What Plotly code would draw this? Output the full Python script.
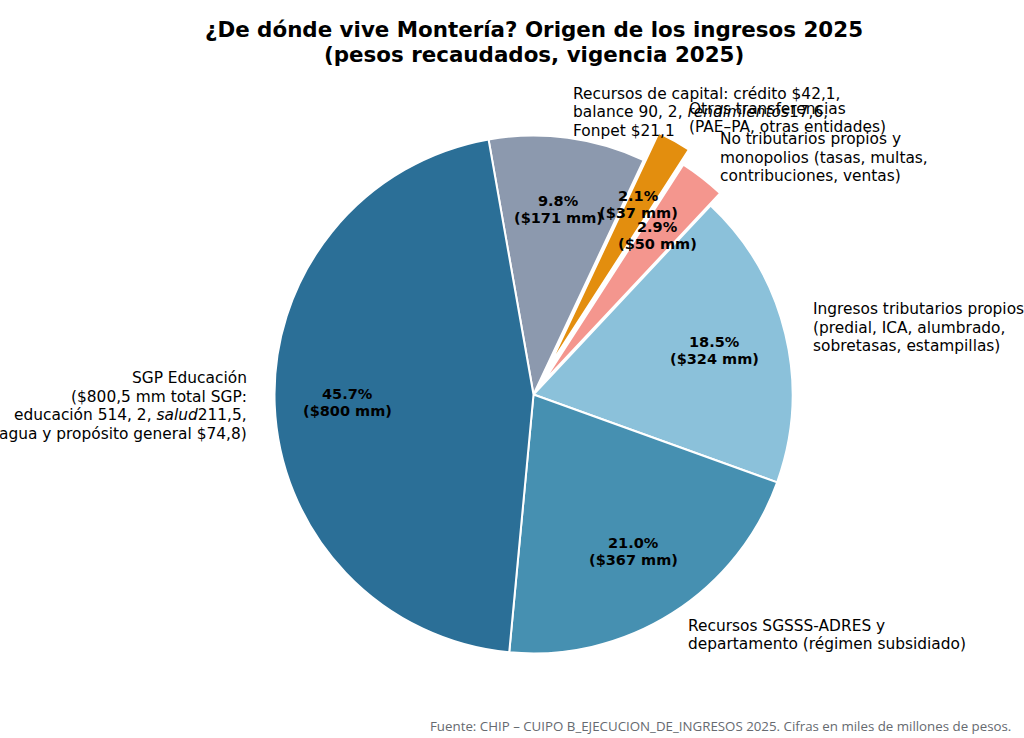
import math
import plotly.graph_objects as go

# Datos (miles de millones de pesos), en orden horario desde arriba
categorias = [
    'Recursos de capital',
    'Otras transferencias',
    'No tributarios propios y monopolios',
    'Ingresos tributarios propios',
    'Recursos SGSSS-ADRES y departamento',
    'SGP Educación',
]
valores = [171.0, 37.2, 50.2, 324.3, 367.4, 800.5]
etiquetas = [
    'Recursos de capital: crédito $42,1,<br>balance 90, 2, <i>rendimientos</i>17,6,<br>Fonpet $21,1',
    'Otras transferencias<br>(PAE–PA, otras entidades)',
    'No tributarios propios y<br>monopolios (tasas, multas,<br>contribuciones, ventas)',
    'Ingresos tributarios propios<br>(predial, ICA, alumbrado,<br>sobretasas, estampillas)',
    'Recursos SGSSS-ADRES y<br>departamento (régimen subsidiado)',
    'SGP Educación<br>($800,5 mm total SGP:<br>educación 514, 2, <i>salud</i>211,5,<br>agua y propósito general $74,8)',
]
colores = ['#8c99ae', '#e38e0e', '#f4968e', '#8bc1da', '#4690b1', '#2b6f97']
separacion = [0, 0.12, 0.06, 0, 0, 0]

titulo = ['¿De dónde vive Montería? Origen de los ingresos 2025',
          '(pesos recaudados, vigencia 2025)']
fuente = 'Fuente: CHIP – CUIPO B_EJECUCION_DE_INGRESOS 2025. Cifras en miles de millones de pesos.'

# Geometría
W, H = 1024, 738
cx, cy = 533.5, 394.5      # centro del pie en px (desde arriba)
R = 259                    # radio en px
rotacion = -10             # grados, sentido horario desde las 12
half = R * (1 + max(separacion))

fig = go.Figure()
fig.add_trace(go.Pie(
    labels=categorias,
    values=valores,
    sort=False,
    direction='clockwise',
    rotation=rotacion,
    pull=separacion,
    marker=dict(colors=colores, line=dict(color='white', width=2)),
    textinfo='none',
    hoverinfo='label+value+percent',
    showlegend=False,
    domain=dict(x=[(cx - half) / W, (cx + half) / W],
                y=[(H - cy - half) / H, (H - cy + half) / H]),
))


def texto(lineas, x, y, interlinea, anchor, font):
    # una anotación por línea, centradas verticalmente en (x, y) px
    n = len(lineas)
    for k, t in enumerate(lineas):
        yk = y + (k - (n - 1) / 2) * interlinea
        fig.add_annotation(
            x=x / W, y=(H - yk) / H, xref='paper', yref='paper',
            text=t, showarrow=False, xanchor=anchor, yanchor='middle',
            align=anchor, font=font,
        )


total = sum(valores)
acum = 0
for v, lab, p in zip(valores, etiquetas, separacion):
    medio = rotacion + (acum + v / 2) / total * 360
    acum += v
    th = math.radians(90 - medio)
    c, s = math.cos(th), math.sin(th)
    # porcentaje dentro
    d = (0.72 + p) * R
    texto([f'{v / total * 100:.1f}%', f'(${v:.0f} mm)'],
          cx + d * c, cy - d * s, 17, 'center',
          dict(family='DejaVu Sans', size=14.5, color='black', weight='bold'))
    # etiqueta fuera
    d = (1.1 + p) * R
    lado = 'left' if c >= 0 else 'right'
    texto(lab.split('<br>'), cx + d * c, cy - d * s, 18.5, lado,
          dict(family='DejaVu Sans', size=15.4, color='black'))

# Título
texto(titulo, cx, 42, 24.5, 'center',
      dict(family='DejaVu Sans', size=21.4, color='black', weight='bold'))

fig.add_annotation(
    x=1013 / W, y=(H - 726) / H, xref='paper', yref='paper',
    text=fuente, showarrow=False, xanchor='right', yanchor='middle',
    font=dict(family='Open Sans', size=13.3, color='#666a70'),
)

fig.update_layout(
    width=W, height=H,
    margin=dict(l=0, r=0, t=0, b=0),
    paper_bgcolor='white',
)

fig.write_html('out.html', config={'displayModeBar': False},
               post_script="document.body.style.margin='0px';")
